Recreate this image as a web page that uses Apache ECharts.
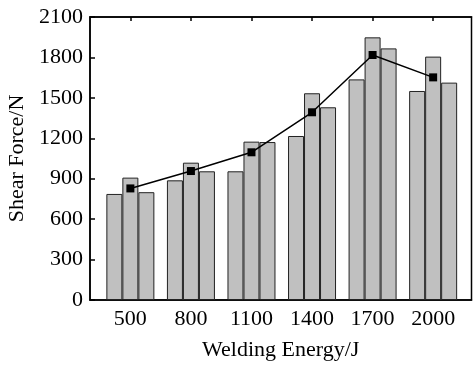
<!DOCTYPE html>
<html>
<head>
<meta charset="utf-8" />
<title>Shear Force</title>
<script src="https://cdn.jsdelivr.net/npm/echarts@6/dist/echarts.min.js"></script>
<style>
  html, body { margin: 0; padding: 0; background: #fff; }
  #main { width: 473px; height: 365px; }
</style>
</head>
<body>
<div id="main"></div>
<script type="text/javascript">
// welding energy (J) and three samples per level + mean line
var energy = [500, 800, 1100, 1400, 1700, 2000];
var sample1 = [787, 888, 955, 1217, 1637, 1551];
var sample2 = [908, 1019, 1175, 1534, 1949, 1806];
var sample3 = [800, 955, 1172, 1430, 1867, 1613];
var meanForce = [828, 957, 1096, 1393, 1818, 1652];

function pairs(vals) {
  return energy.map(function (e, i) { return [e, vals[i]]; });
}
function plain(v) { return String(v); }

var font = 'Liberation Serif';
var barStyle = { color: '#c0c0c0', borderColor: '#222', borderWidth: 1 };

var chart = echarts.init(document.getElementById('main'));
var option = {
  animation: false,
  grid: {
    left: 90, top: 17, right: 1.5, bottom: 65,
    outerBoundsMode: 'none', containLabel: false,
    show: true, borderColor: '#000', borderWidth: 1.5, backgroundColor: 'transparent'
  },
  xAxis: [{
    type: 'value',
    min: 300,
    max: 2190,
    name: 'Welding Energy/J',
    nameLocation: 'middle',
    nameGap: 39,
    nameTextStyle: { fontFamily: font, fontSize: 22, color: '#000' },
    axisLine: { onZero: false, lineStyle: { color: '#000', width: 1.5 } },
    axisTick: { inside: true, length: 5, customValues: energy, lineStyle: { color: '#000', width: 1.5 } },
    axisLabel: { customValues: energy, formatter: plain, fontFamily: font, fontSize: 22, color: '#000', margin: 8 },
    splitLine: { show: false }
  }, {
    type: 'value',
    position: 'top',
    min: 300,
    max: 2190,
    axisLine: { show: true, onZero: false, lineStyle: { color: '#000', width: 1.5 } },
    axisTick: { show: true, inside: true, length: 4, customValues: energy, lineStyle: { color: '#000', width: 1.5 } },
    axisLabel: { show: false },
    splitLine: { show: false }
  }],
  yAxis: [{
    type: 'value',
    min: 0,
    max: 2100,
    interval: 300,
    name: 'Shear Force/N',
    nameLocation: 'middle',
    nameGap: 53,
    nameTextStyle: { fontFamily: font, fontSize: 22, color: '#000' },
    axisLine: { show: true, onZero: false, lineStyle: { color: '#000', width: 1.5 } },
    axisTick: { inside: true, length: 5, lineStyle: { color: '#000', width: 1.5 } },
    axisLabel: { formatter: plain, fontFamily: font, fontSize: 22, color: '#000', margin: 7 },
    splitLine: { show: false }
  }],
  series: [{
    type: 'bar',
    data: pairs(sample1),
    barWidth: 16,
    barGap: '0%',
    itemStyle: barStyle
  }, {
    type: 'bar',
    data: pairs(sample2),
    barWidth: 16,
    barGap: '0%',
    itemStyle: barStyle
  }, {
    type: 'bar',
    data: pairs(sample3),
    barWidth: 16,
    barGap: '0%',
    itemStyle: barStyle
  }, {
    type: 'line',
    data: pairs(meanForce),
    symbol: 'rect',
    symbolSize: 8,
    itemStyle: { color: '#000' },
    lineStyle: { color: '#000', width: 1.5 },
    z: 5
  }]
};
chart.setOption(option);
</script>
</body>
</html>
